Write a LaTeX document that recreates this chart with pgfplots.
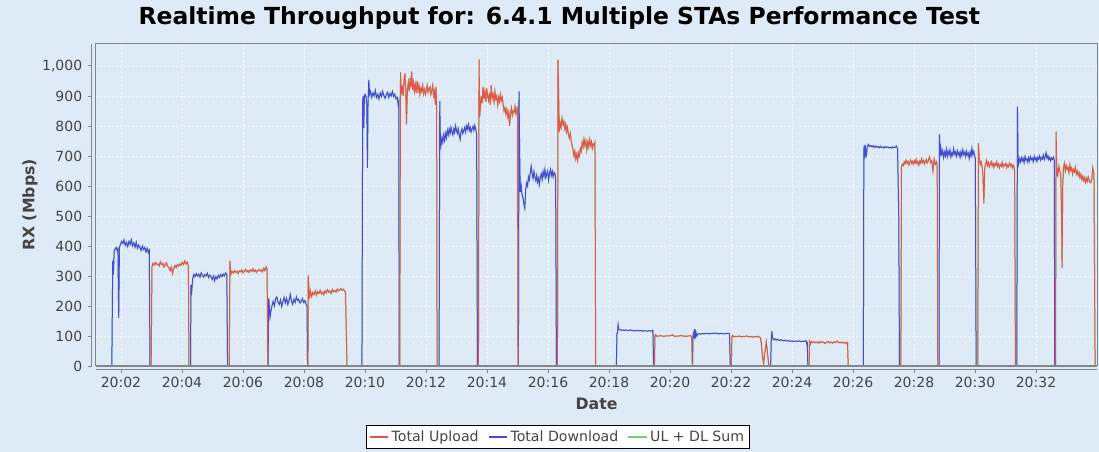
\documentclass[border=0pt]{standalone}
\usepackage{pgfplots}
\pgfplotsset{compat=1.18}
\usepackage{pgfplotstable}
\usepackage{fontspec}
\setmainfont{DejaVu Sans}
\definecolor{bgcol}{RGB}{222,234,246}
\definecolor{redcol}{RGB}{232,84,72}
\definecolor{bluecol}{RGB}{72,72,222}
\definecolor{greencol}{RGB}{110,210,110}
\definecolor{bordergray}{RGB}{128,134,140}
\definecolor{ticktext}{RGB}{68,68,68}
\definecolor{labeltext}{RGB}{68,68,68}

% Total Download (time in minutes after 20:00, Mbps)
\pgfplotstableread{
t v
1.70 0
1.73 350
1.75 305
1.78 385
1.81 390
1.84 395
1.87 385
1.90 390
1.925 160
1.95 395
1.98 405
2.02 415
2.06 408
2.10 420
2.14 402
2.18 412
2.22 398
2.26 415
2.30 405
2.34 421
2.38 400
2.42 410
2.46 396
2.50 412
2.54 392
2.58 403
2.62 395
2.66 385
2.70 400
2.74 388
2.78 395
2.82 380
2.86 392
2.90 378
2.93 385
2.95 0
4.28 0
4.294 270
4.32 250
4.35 290
4.39 305
4.43 298
4.47 308
4.51 300
4.55 306
4.59 296
4.63 310
4.67 302
4.71 296
4.75 305
4.79 300
4.83 309
4.87 295
4.91 303
4.95 298
4.99 288
5.03 300
5.07 284
5.11 298
5.15 290
5.19 302
5.23 295
5.27 305
5.31 298
5.35 306
5.39 300
5.43 310
5.47 305
5.496 0
6.82 0
6.845 225
6.87 190
6.89 165
6.92 185
6.95 200
6.99 215
7.03 200
7.07 225
7.11 230
7.15 212
7.19 205
7.23 220
7.27 198
7.31 215
7.35 228
7.39 210
7.43 225
7.47 205
7.51 218
7.55 238
7.59 215
7.63 205
7.67 222
7.71 212
7.75 230
7.79 218
7.83 222
7.87 210
7.91 215
7.95 225
7.99 212
8.03 218
8.07 205
8.10 200
8.117 0
9.90 0
9.925 880
9.94 900
9.96 793
9.98 895
10.00 905
10.03 900
10.06 870
10.08 660
10.10 880
10.126 953
10.15 905
10.18 915
10.22 895
10.26 910
10.30 900
10.34 918
10.38 895
10.42 905
10.46 890
10.50 910
10.54 898
10.58 915
10.62 900
10.66 892
10.70 905
10.74 912
10.78 895
10.82 908
10.86 900
10.90 915
10.94 898
10.98 905
11.02 890
11.06 895
11.09 870
11.11 880
11.119 0
12.43 0
12.452 883
12.47 760
12.49 735
12.52 760
12.55 745
12.58 770
12.61 752
12.64 775
12.67 760
12.70 785
12.73 770
12.76 790
12.79 775
12.82 795
12.85 780
12.88 770
12.91 790
12.94 778
12.97 800
13.00 785
13.03 775
13.06 790
13.09 770
13.12 755
13.15 780
13.18 790
13.21 775
13.24 785
13.27 795
13.30 780
13.33 800
13.36 790
13.39 805
13.42 785
13.45 795
13.48 780
13.51 790
13.54 798
13.57 785
13.60 802
13.63 790
13.66 775
13.687 0
15.03 0
15.050 915
15.07 720
15.09 580
15.12 600
15.15 570
15.18 560
15.21 540
15.24 526
15.27 590
15.30 610
15.33 600
15.36 630
15.39 620
15.42 645
15.45 665
15.48 640
15.51 625
15.54 648
15.57 630
15.60 618
15.63 635
15.66 612
15.69 625
15.72 605
15.75 630
15.78 640
15.81 622
15.84 648
15.87 632
15.90 655
15.93 628
15.96 640
15.99 650
16.02 620
16.05 640
16.08 655
16.11 635
16.14 648
16.17 630
16.20 645
16.23 640
16.25 630
16.276 0
18.24 0
18.262 108
18.28 112
18.30 137
18.32 122
18.36 121
18.40 119
18.45 120
18.50 118
18.55 120
18.60 119
18.65 118
18.70 120
18.75 119
18.80 117
18.85 118
18.90 117
18.95 119
19.00 117
19.05 118
19.10 116
19.15 118
19.20 117
19.25 116
19.30 118
19.35 117
19.40 116
19.44 119
19.464 0
20.74 0
20.752 95
20.77 108
20.79 98
20.81 123
20.83 92
20.85 112
20.88 100
20.91 106
20.95 108
21.00 106
21.06 108
21.12 107
21.18 109
21.24 108
21.30 107
21.36 109
21.42 108
21.48 110
21.54 108
21.60 107
21.66 109
21.72 108
21.78 107
21.84 108
21.90 109
21.95 108
21.977 0
23.30 0
23.320 85
23.34 116
23.36 95
23.39 88
23.43 91
23.48 86
23.53 89
23.58 85
23.64 88
23.70 84
23.76 86
23.82 83
23.88 85
23.94 82
24.00 84
24.06 81
24.12 83
24.18 82
24.24 84
24.30 81
24.36 83
24.42 82
24.46 84
24.49 72
24.50 80
24.52 0
26.34 0
26.355 720
26.37 735
26.39 692
26.41 725
26.44 705
26.47 730
26.50 738
26.54 732
26.58 735
26.62 730
26.66 734
26.70 728
26.74 733
26.78 729
26.82 731
26.86 727
26.90 732
26.94 728
26.98 730
27.02 726
27.06 731
27.10 728
27.14 730
27.18 727
27.22 729
27.26 726
27.30 730
27.34 727
27.38 729
27.42 733
27.46 725
27.50 500
27.524 0
28.82 0
28.835 772
28.86 700
28.88 725
28.91 705
28.94 718
28.97 695
29.00 712
29.03 700
29.06 722
29.09 698
29.12 715
29.15 703
29.18 719
29.21 697
29.24 710
29.27 702
29.30 724
29.33 706
29.36 713
29.39 699
29.42 717
29.45 704
29.48 711
29.51 696
29.54 714
29.57 701
29.60 720
29.63 705
29.66 712
29.69 698
29.72 716
29.75 703
29.78 709
29.81 692
29.84 713
29.87 700
29.90 725
29.93 704
29.96 715
29.99 700
30.01 690
30.037 0
31.37 0
31.391 864
31.41 700
31.43 673
31.46 690
31.49 680
31.52 695
31.55 684
31.58 692
31.61 678
31.64 698
31.67 686
31.70 690
31.73 679
31.76 694
31.79 683
31.82 697
31.85 688
31.88 692
31.91 681
31.94 699
31.97 687
32.00 693
32.03 682
32.06 696
32.09 689
32.12 700
32.15 686
32.18 694
32.21 690
32.24 703
32.27 688
32.30 698
32.33 710
32.36 692
32.39 700
32.42 688
32.45 695
32.48 684
32.51 693
32.54 689
32.57 696
32.60 685
32.613 0
33.94 0
}\download

% Total Upload
\pgfplotstableread{
t v
1.70 0
2.99 0
3.016 330
3.05 342
3.09 336
3.13 345
3.17 338
3.21 340
3.25 333
3.29 347
3.33 338
3.37 342
3.41 330
3.45 336
3.49 344
3.53 332
3.57 328
3.61 318
3.65 330
3.69 308
3.73 325
3.77 335
3.81 328
3.85 338
3.89 332
3.93 340
3.97 336
4.01 345
4.05 338
4.09 350
4.13 340
4.17 346
4.21 335
4.228 0
5.55 0
5.571 350
5.60 305
5.64 315
5.68 310
5.72 318
5.76 312
5.80 316
5.84 308
5.88 318
5.92 314
5.96 320
6.00 310
6.04 316
6.08 322
6.12 314
6.16 318
6.20 312
6.24 320
6.28 316
6.32 324
6.36 315
6.40 320
6.44 312
6.48 318
6.52 322
6.56 316
6.60 320
6.64 314
6.68 326
6.72 318
6.76 330
6.79 322
6.815 0
8.13 0
8.14 302
8.16 260
8.18 225
8.21 250
8.25 232
8.29 245
8.33 238
8.37 250
8.41 236
8.45 248
8.49 242
8.53 252
8.57 240
8.61 246
8.65 238
8.69 250
8.73 244
8.77 254
8.81 246
8.85 250
8.89 242
8.93 255
8.97 248
9.01 252
9.05 246
9.09 256
9.13 250
9.17 254
9.21 258
9.25 252
9.29 256
9.33 250
9.36 248
9.41 0
11.14 0
11.165 978
11.19 905
11.22 935
11.25 900
11.28 950
11.31 975
11.34 910
11.36 805
11.39 920
11.42 945
11.45 915
11.48 960
11.51 930
11.53 982
11.56 920
11.59 945
11.62 915
11.65 938
11.68 910
11.71 950
11.74 918
11.77 935
11.80 905
11.83 925
11.86 915
11.89 935
11.92 908
11.95 922
11.98 905
12.01 918
12.04 935
12.07 912
12.10 925
12.13 930
12.16 905
12.19 918
12.22 935
12.25 900
12.28 915
12.31 870
12.33 930
12.35 860
12.364 0
13.72 0
13.740 1022
13.76 830
13.78 860
13.81 900
13.84 875
13.87 930
13.90 890
13.93 915
13.96 880
13.99 925
14.02 900
14.05 885
14.08 910
14.11 870
14.14 935
14.17 895
14.20 905
14.23 880
14.26 915
14.29 890
14.32 900
14.35 870
14.38 895
14.41 880
14.44 905
14.47 885
14.50 895
14.53 870
14.56 850
14.59 860
14.62 840
14.65 855
14.68 830
14.71 845
14.74 800
14.77 840
14.80 860
14.83 835
14.86 850
14.89 845
14.92 865
14.95 840
14.98 855
15.00 860
15.018 0
16.31 0
16.328 1020
16.35 900
16.37 780
16.40 810
16.43 795
16.46 825
16.49 805
16.52 815
16.55 790
16.58 805
16.61 780
16.64 795
16.67 770
16.70 760
16.73 775
16.76 750
16.79 735
16.82 720
16.85 700
16.88 715
16.91 690
16.94 705
16.97 685
17.00 710
17.03 700
17.06 725
17.09 715
17.12 745
17.15 730
17.18 755
17.21 735
17.24 750
17.27 720
17.30 745
17.33 730
17.36 755
17.39 735
17.42 748
17.45 725
17.48 740
17.51 735
17.54 745
17.564 0
19.49 0
19.507 100
19.53 104
19.56 99
19.62 100
19.70 101
19.78 99
19.86 100
19.94 100
20.02 101
20.08 104
20.12 100
20.20 99
20.28 100
20.36 101
20.44 100
20.52 99
20.60 100
20.68 101
20.71 99
20.732 0
22.01 0
22.029 98
22.06 102
22.10 97
22.16 99
22.22 98
22.28 100
22.34 97
22.40 99
22.46 98
22.52 100
22.58 97
22.64 99
22.70 96
22.76 98
22.82 97
22.88 99
22.93 96
22.97 94
23.00 70
23.03 35
23.068 8
23.11 45
23.157 80
23.20 40
23.242 0
24.56 0
24.575 80
24.60 72
24.63 82
24.68 78
24.73 81
24.78 77
24.83 80
24.88 76
24.93 82
24.98 78
25.03 80
25.08 75
25.13 79
25.18 82
25.23 77
25.28 80
25.33 76
25.38 81
25.43 78
25.48 83
25.53 79
25.58 77
25.63 80
25.68 76
25.73 79
25.78 74
25.82 78
25.843 0
27.57 0
27.590 665
27.62 672
27.65 668
27.68 680
27.71 674
27.74 685
27.77 676
27.80 682
27.83 670
27.86 678
27.89 686
27.92 675
27.95 681
27.98 672
28.01 684
28.04 677
28.07 688
28.10 674
28.13 680
28.16 670
28.19 683
28.22 676
28.25 690
28.28 679
28.31 684
28.34 673
28.37 681
28.40 688
28.43 676
28.46 682
28.49 692
28.51 697
28.54 678
28.58 684
28.62 650
28.66 690
28.70 672
28.74 680
28.76 670
28.779 0
30.09 0
30.113 742
30.14 690
30.17 672
30.20 680
30.23 665
30.26 640
30.29 542
30.32 660
30.35 675
30.38 685
30.41 668
30.44 678
30.47 664
30.50 672
30.53 681
30.56 667
30.59 676
30.62 662
30.65 674
30.68 669
30.71 680
30.74 665
30.77 673
30.80 660
30.83 671
30.86 666
30.89 678
30.92 663
30.95 672
30.98 668
31.01 675
31.04 661
31.07 670
31.10 664
31.13 676
31.16 668
31.19 672
31.22 660
31.25 670
31.28 664
31.30 650
31.325 0
32.64 0
32.659 781
32.68 633
32.70 660
32.72 640
32.75 665
32.78 650
32.81 640
32.835 520
32.855 326
32.875 600
32.90 660
32.93 675
32.96 650
32.99 668
33.02 655
33.05 662
33.08 645
33.11 670
33.14 652
33.17 660
33.20 640
33.23 655
33.26 648
33.29 662
33.32 640
33.35 650
33.38 635
33.41 645
33.44 628
33.47 638
33.50 622
33.53 632
33.56 618
33.59 628
33.62 612
33.65 625
33.68 615
33.71 630
33.74 618
33.77 612
33.80 611
33.83 625
33.86 660
33.90 640
33.937 0
}\upload

\begin{document}
\begin{tikzpicture}
\fill[bgcol] (-72pt,-64.5pt) rectangle (752.25pt,274.5pt);
\node[font=\fontsize{17.6pt}{20pt}\selectfont\bfseries, text=black] at (347.5pt,261pt) {Realtime Throughput for: 6.4.1 Multiple STAs Performance Test};
\begin{axis}[
  at={(0pt,0pt)}, anchor=south west,
  scale only axis, width=750.75pt, height=241.5pt,
  xmin=1.181, xmax=34.0, ymin=0, ymax=1073,
  axis background/.style={fill=bgcol},
  axis line style={bordergray, line width=0.75pt},
  clip=false,
  xtick={2,4,...,32},
  xticklabels={20:02,20:04,20:06,20:08,20:10,20:12,20:14,20:16,20:18,20:20,20:22,20:24,20:26,20:28,20:30,20:32},
  ytick={0,100,...,1000},
  major tick length=0pt,
  grid=major,
  major grid style={white, opacity=0.75, line width=0.4pt, dash pattern=on 1.2pt off 1.8pt},
  /pgf/number format/assume math mode=true,
  /pgf/number format/1000 sep={,},
  ticklabel style={font=\fontsize{10.5pt}{12pt}\selectfont, text=ticktext},
  xticklabel style={anchor=north, yshift=-4.8pt},
  yticklabel style={anchor=east, xshift=-6.8pt},
  xlabel={Date},
  ylabel={RX (Mbps)},
  label style={font=\fontsize{11.8pt}{14pt}\selectfont\bfseries, text=labeltext},
  xlabel style={at={(axis description cs:0.5,-0.118)}, anchor=center},
  ylabel style={at={(axis description cs:-0.0659,0.5)}, anchor=center},
  legend columns=3,
  legend style={at={(axis description cs:0.4615,-0.2205)}, anchor=center,
    draw=black, fill=white, line width=0.75pt,
    font=\fontsize{10.6pt}{12pt}\selectfont, text=ticktext,
    inner xsep=2pt, inner ysep=2pt,
    /tikz/every even column/.append style={column sep=5pt}},
  legend image code/.code={\draw[#1, line width=0.9pt] (0pt,0pt) -- (14pt,0pt);},
]
\addlegendimage{draw=redcol}\addlegendentry{Total Upload}
\addlegendimage{draw=bluecol}\addlegendentry{Total Download}
\addlegendimage{draw=greencol}\addlegendentry{UL + DL Sum}
\addplot[greencol, line width=0.75pt, forget plot] table[x=t,y=v] {\upload};
\addplot[greencol, line width=0.75pt, forget plot] table[x=t,y=v] {\download};
\addplot[bluecol, line width=0.75pt, forget plot] table[x=t,y=v] {\download};
\addplot[redcol, line width=0.75pt, forget plot] table[x=t,y=v] {\upload};
\draw[bordergray, line width=0.75pt] (rel axis cs:0,0) rectangle (rel axis cs:1,1);
\draw[bordergray, line width=1.3pt] (rel axis cs:0,0) -- (rel axis cs:1,0);
\draw[bordergray, line width=0.75pt] ([xshift=-3.2pt]rel axis cs:0,0) -- ([xshift=-3.2pt]rel axis cs:0,1);
\draw[bordergray, line width=0.75pt] ([yshift=-3pt]rel axis cs:0,0) -- ([yshift=-3pt]rel axis cs:1,0);
\pgfplotsinvokeforeach{2,4,...,32}{\draw[bordergray, line width=0.6pt] ([yshift=-3pt]axis cs:#1,0) -- ([yshift=-5.5pt]axis cs:#1,0);}
\pgfplotsinvokeforeach{0,100,...,1000}{\draw[bordergray, line width=0.6pt] ([xshift=-3.2pt]axis cs:1.181,#1) -- ([xshift=-5.7pt]axis cs:1.181,#1);}
\end{axis}
\pgfresetboundingbox
\path (-72pt,-64.5pt) rectangle (752.25pt,274.5pt);
\end{tikzpicture}
\end{document}
